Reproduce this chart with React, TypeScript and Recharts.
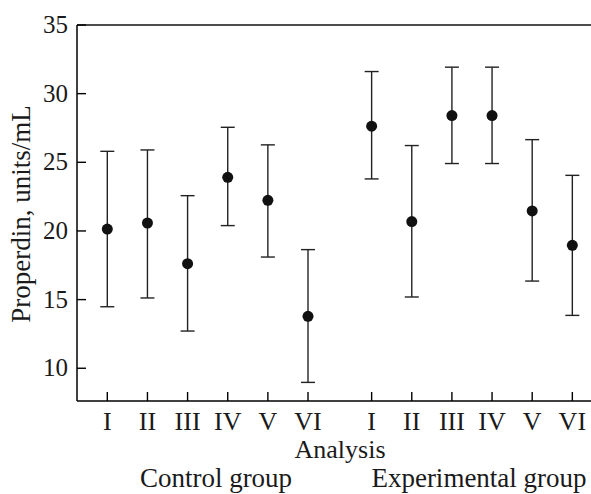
import React from 'react';
import { ScatterChart, Scatter, ErrorBar, XAxis, YAxis, ReferenceLine } from 'recharts';

// analysis labels, same for both groups
const analysisLabels = ['I', 'II', 'III', 'IV', 'V', 'VI'];

// control group: mean and the ends of the error bars
const controlMean = [20.14, 20.58, 17.62, 23.91, 22.23, 13.78];
const controlUpper = [25.8, 25.9, 22.57, 27.55, 26.27, 18.64];
const controlLower = [14.48, 15.12, 12.71, 20.39, 18.1, 8.97];

// experimental group
const expMean = [27.63, 20.68, 28.4, 28.4, 21.46, 18.95];
const expUpper = [31.61, 26.22, 31.93, 31.93, 26.65, 24.05];
const expLower = [23.79, 15.19, 24.91, 24.91, 16.35, 13.85];

const yTicks = [10, 15, 20, 25, 30, 35];

// second group starts a bit further along the axis
const GROUP_SHIFT = 6.585;
const FONT = "'Liberation Serif', 'Times New Roman', serif";

const data = [
  ...analysisLabels.map((label, i) => ({
    x: i + 1,
    label,
    y: controlMean[i],
    err: [controlMean[i] - controlLower[i], controlUpper[i] - controlMean[i]],
  })),
  ...analysisLabels.map((label, i) => ({
    x: i + 1 + GROUP_SHIFT,
    label,
    y: expMean[i],
    err: [expMean[i] - expLower[i], expUpper[i] - expMean[i]],
  })),
];

const xTicks = data.map((d) => d.x);
const labelAt = (v: number) => data.find((d) => Math.abs(d.x - v) < 1e-6)?.label ?? '';

const XTick = ({ x, y, payload }: any) => (
  <g>
    <line x1={x} y1={y} x2={x} y2={y - 9} stroke="#000" strokeWidth={1.4} />
    <text x={x} y={y + 29} textAnchor="middle" fontFamily={FONT} fontSize={26} fill="#1a1a1a">
      {labelAt(payload.value)}
    </text>
  </g>
);

const YTick = ({ x, y, payload }: any) => (
  <g>
    <line x1={x} y1={y} x2={x + 9} y2={y} stroke="#000" strokeWidth={1.4} />
    <text x={x - 9} y={y + 8} textAnchor="end" fontFamily={FONT} fontSize={25} fill="#1a1a1a">
      {payload.value}
    </text>
  </g>
);

const Dot = (props: any) => <circle cx={props.cx} cy={props.cy} r={5.5} fill="#111" />;

export default function App() {
  return (
    <div style={{ position: 'absolute', left: 0, top: 0, background: '#fff' }}>
      <ScatterChart width={591} height={494} margin={{ top: 25, right: 0, bottom: 0, left: 0 }}>
        <XAxis
          type="number"
          dataKey="x"
          domain={[0.245, 13.05]}
          ticks={xTicks}
          interval={0}
          height={93}
          tickSize={0}
          tickMargin={0}
          tickLine={false}
          tick={<XTick />}
          stroke="#000"
          strokeWidth={1.5}
          allowDataOverflow
        />
        <YAxis
          type="number"
          dataKey="y"
          domain={[7.615, 35]}
          ticks={yTicks}
          interval={0}
          width={77}
          tickSize={0}
          tickMargin={0}
          tickLine={false}
          tick={<YTick />}
          stroke="#000"
          strokeWidth={1.5}
          allowDataOverflow
        />
        <ReferenceLine y={35} stroke="#111" strokeWidth={1.5} />
        <Scatter data={data} shape={<Dot />} isAnimationActive={false}>
          <ErrorBar dataKey="err" direction="y" width={7} stroke="#222" strokeWidth={1.4} isAnimationActive={false} />
        </Scatter>
        <text transform="translate(30,214) rotate(-90)" textAnchor="middle" fontFamily={FONT} fontSize={27} fill="#1a1a1a">
          Properdin, units/mL
        </text>
        <text x={340} y={458} textAnchor="middle" fontFamily={FONT} fontSize={26} fill="#1a1a1a">
          Analysis
        </text>
        <text x={216} y={487} textAnchor="middle" fontFamily={FONT} fontSize={27} fill="#1a1a1a">
          Control group
        </text>
        <text x={479} y={487} textAnchor="middle" fontFamily={FONT} fontSize={27} fill="#1a1a1a">
          Experimental group
        </text>
      </ScatterChart>
    </div>
  );
}
